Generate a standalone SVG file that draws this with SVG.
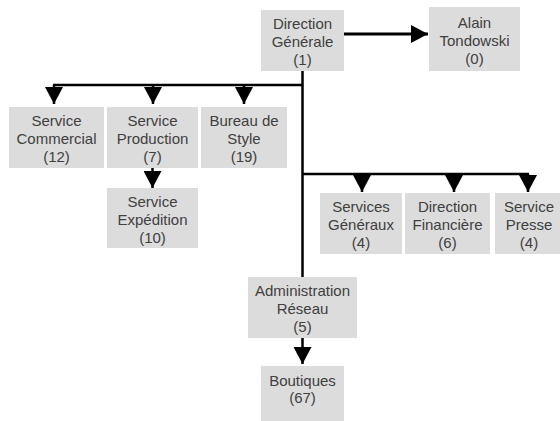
<svg xmlns="http://www.w3.org/2000/svg" width="560" height="421" viewBox="0 0 560 421">
  <style>
    .box { fill: #dcdcdc; }
    .lbl { font-family: "Liberation Sans", Arial, sans-serif; font-size: 15px; fill: #404040; text-anchor: middle; }
    .ln { stroke: #000; stroke-width: 2.5; fill: none; }
    .arr { stroke: #000; stroke-width: 2.5; fill: none; marker-end: url(#ah); }
  </style>
  <defs>
    <marker id="ah" markerUnits="userSpaceOnUse" markerWidth="18" markerHeight="18" refX="17" refY="9" orient="auto">
      <path d="M0,0 L17,9 L0,18 Z" fill="#000"/>
    </marker>
  </defs>
  <rect width="560" height="421" fill="#fff"/>

  <g id="connectors">
    <line class="arr" x1="344" y1="34" x2="428" y2="34" style="stroke-width:3"/>
    <line class="ln" x1="302.5" y1="71" x2="302.5" y2="277"/>
    <line class="ln" x1="53" y1="85" x2="302.5" y2="85"/>
    <line class="arr" x1="54" y1="85" x2="54" y2="104"/>
    <line class="arr" x1="153" y1="85" x2="153" y2="104"/>
    <line class="arr" x1="244" y1="85" x2="244" y2="104"/>
    <line class="arr" x1="152.5" y1="168" x2="152.5" y2="188"/>
    <line class="ln" x1="302.5" y1="174" x2="529" y2="174"/>
    <line class="arr" x1="362" y1="174" x2="362" y2="192"/>
    <line class="arr" x1="454" y1="174" x2="454" y2="192"/>
    <line class="arr" x1="528" y1="174" x2="528" y2="192"/>
    <line class="arr" x1="302.5" y1="338" x2="302.5" y2="364"/>
  </g>

  <g id="direction-generale">
    <rect class="box" x="261" y="10" width="83" height="61"/>
    <text class="lbl" x="302.5" y="28.5">Direction</text>
    <text class="lbl" x="302.5" y="46.5">Générale</text>
    <text class="lbl" x="302.5" y="64.5">(1)</text>
  </g>
  <g id="alain-tondowski">
    <rect class="box" x="429" y="7" width="91" height="64"/>
    <text class="lbl" x="474.5" y="27.5">Alain</text>
    <text class="lbl" x="474.5" y="45.5">Tondowski</text>
    <text class="lbl" x="474.5" y="63.5">(0)</text>
  </g>
  <g id="service-commercial">
    <rect class="box" x="9" y="107" width="95" height="61"/>
    <text class="lbl" x="56.5" y="125.5">Service</text>
    <text class="lbl" x="56.5" y="143.5">Commercial</text>
    <text class="lbl" x="56.5" y="161.5">(12)</text>
  </g>
  <g id="service-production">
    <rect class="box" x="107" y="107" width="91" height="61"/>
    <text class="lbl" x="152.5" y="125.5">Service</text>
    <text class="lbl" x="152.5" y="143.5">Production</text>
    <text class="lbl" x="152.5" y="161.5">(7)</text>
  </g>
  <g id="bureau-de-style">
    <rect class="box" x="201" y="107" width="86" height="61"/>
    <text class="lbl" x="244" y="125.5">Bureau de</text>
    <text class="lbl" x="244" y="143.5">Style</text>
    <text class="lbl" x="244" y="161.5">(19)</text>
  </g>
  <g id="service-expedition">
    <rect class="box" x="107" y="188" width="91" height="60"/>
    <text class="lbl" x="152.5" y="206.5">Service</text>
    <text class="lbl" x="152.5" y="224.5">Expédition</text>
    <text class="lbl" x="152.5" y="242.5">(10)</text>
  </g>
  <g id="services-generaux">
    <rect class="box" x="320" y="193" width="82" height="61"/>
    <text class="lbl" x="361" y="211.5">Services</text>
    <text class="lbl" x="361" y="229.5">Généraux</text>
    <text class="lbl" x="361" y="247.5">(4)</text>
  </g>
  <g id="direction-financiere">
    <rect class="box" x="405" y="193" width="85" height="61"/>
    <text class="lbl" x="447.5" y="211.5">Direction</text>
    <text class="lbl" x="447.5" y="229.5">Financière</text>
    <text class="lbl" x="447.5" y="247.5">(6)</text>
  </g>
  <g id="service-presse">
    <rect class="box" x="495" y="193" width="68" height="61"/>
    <text class="lbl" x="529" y="211.5">Service</text>
    <text class="lbl" x="529" y="229.5">Presse</text>
    <text class="lbl" x="529" y="247.5">(4)</text>
  </g>
  <g id="administration-reseau">
    <rect class="box" x="248" y="277" width="109" height="61"/>
    <text class="lbl" x="302.5" y="295.5">Administration</text>
    <text class="lbl" x="302.5" y="313.5">Réseau</text>
    <text class="lbl" x="302.5" y="331.5">(5)</text>
  </g>
  <g id="boutiques">
    <rect class="box" x="261" y="366" width="83" height="55"/>
    <text class="lbl" x="302.5" y="385.5">Boutiques</text>
    <text class="lbl" x="302.5" y="403">(67)</text>
  </g>
</svg>
